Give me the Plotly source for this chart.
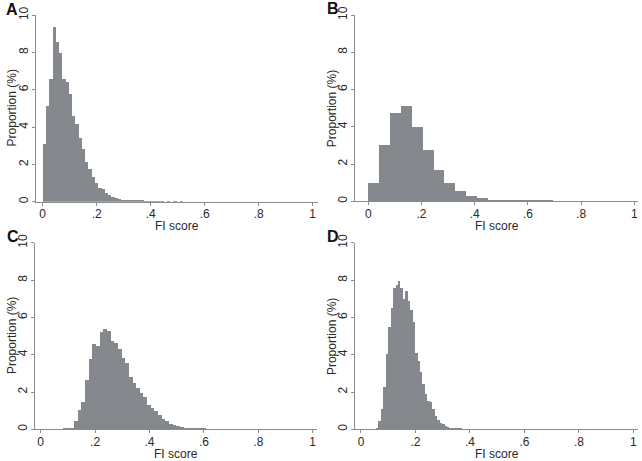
import plotly.graph_objects as go

# ---------------- data ----------------
# Panel A
a_start = 0.0
a_width = 0.0121
a_values = [3.06, 5.14, 6.57, 9.34, 8.56, 7.94, 6.58, 6.41, 5.78, 4.59, 4.18, 3.4, 2.8,
            2.1, 1.75, 1.3, 1.01, 0.75, 0.69, 0.48, 0.36, 0.23, 0.18, 0.12, 0.09, 0.07,
            0.05, 0.04, 0.04, 0.03, 0.03, 0.02, 0.02, 0.02, 0.01, 0.01, 0.015, 0, 0.015,
            0, 0.015, 0, 0.01]

# Panel B
b_start = 0.0
b_width = 0.0409
b_values = [1.0, 3.0, 4.72, 5.12, 4.0, 2.75, 1.66, 1.0, 0.57, 0.30, 0.16, 0.09, 0.05,
            0.04, 0.03, 0.02, 0.02]

# Panel C
c_start = 0.069
c_width = 0.01343
c_values = [0.02, 0.03, 0.07, 0.1, 0.45, 1.07, 1.5, 2.63, 3.79, 4.6, 4.49, 5.22, 5.4,
            5.26, 4.74, 4.63, 4.31, 3.85, 3.58, 2.84, 2.49, 2.24, 1.95, 1.74, 1.29, 1.16,
            0.97, 0.8, 0.57, 0.43, 0.30, 0.23, 0.18, 0.13, 0.09, 0.07, 0.05, 0.04, 0.03,
            0.03, 0.02, 0.02, 0.02, 0.01, 0.01, 0.01, 0.01]

# Panel D
d_start = 0.0457
d_width = 0.009
d_values = [0.02, 0.05, 0.48, 1.1, 2.3, 4.05, 5.5, 6.5, 7.6, 7.75, 7.95, 7.6, 7.0, 7.45,
            6.9, 6.4, 5.75, 4.1, 3.7, 3.1, 2.45, 1.9, 1.55, 1.45, 1.1, 0.75, 0.5, 0.36,
            0.27, 0.2, 0.15, 0.1, 0.07, 0.05, 0.04, 0.03, 0.02, 0.02, 0.01, 0.01, 0.01,
            0.01, 0, 0.01, 0, 0.005]

panel_letters = ["A", "B", "C", "D"]
x_tick_vals = [0, 0.2, 0.4, 0.6, 0.8, 1]
x_tick_text = ["0", ".2", ".4", ".6", ".8", "1"]
y_tick_vals = [0, 2, 4, 6, 8, 10]
y_tick_text = ["0", "2", "4", "6", "8", "10"]
x_title = "FI score"
y_title = "Proportion (%)"

# ---------------- figure ----------------
W, H = 642, 461
BAR_COLOR = "#85888c"
AXIS_COLOR = "#8c8c8c"
TEXT_COLOR = "#2a2a2a"
FONT = "Liberation Sans, Arial, sans-serif"
FS = 12

panels = [
    (a_start, a_width, a_values),
    (b_start, b_width, b_values),
    (c_start, c_width, c_values),
    (d_start, d_width, d_values),
]

# pixel geometry of each plot area: (left, right, top, bottom), x-range
geom = [
    ((36, 318.3, 15.2, 201.7), [-0.0248, 1.0207]),
    ((355, 638.3, 15.0, 201.3), [-0.050, 1.015]),
    ((35, 316.7, 242.8, 429.3), [-0.021, 1.0147]),
    ((355, 638.3, 242.8, 429.3), [-0.022, 1.018]),
]
ytitle_x = [12, 332, 12, 332]

fig = go.Figure()
layout = {}
annotations = []
for i, ((start, width, vals), ((l, r, t, b), xr)) in enumerate(zip(panels, geom)):
    n = i + 1
    xs = [start + k * width for k in range(len(vals))]
    fig.add_trace(go.Bar(
        x=xs, y=vals, width=width, offset=0,
        marker=dict(color=BAR_COLOR, line=dict(width=0)),
        xaxis="x" if n == 1 else f"x{n}",
        yaxis="y" if n == 1 else f"y{n}",
        showlegend=False, hoverinfo="x+y",
    ))
    xa = dict(
        domain=[l / W, r / W], range=xr, anchor="y" if n == 1 else f"y{n}",
        tickvals=x_tick_vals, ticktext=x_tick_text,
        showline=True, linecolor=AXIS_COLOR, linewidth=1,
        ticks="outside", ticklen=3, tickcolor=AXIS_COLOR, tickwidth=1,
        ticklabelstandoff=-2,
        showgrid=False, zeroline=False, automargin=False,
        tickfont=dict(size=FS, color=TEXT_COLOR, family=FONT),
    )
    ya = dict(
        domain=[1 - b / H, 1 - t / H], range=[0, 10], anchor="x" if n == 1 else f"x{n}",
        tickvals=y_tick_vals, ticktext=y_tick_text, tickangle=-90,
        showline=True, linecolor=AXIS_COLOR, linewidth=1,
        ticks="outside", ticklen=3, tickcolor=AXIS_COLOR, tickwidth=1,
        ticklabelstandoff=-1,
        showgrid=False, zeroline=False, automargin=False,
        tickfont=dict(size=FS, color=TEXT_COLOR, family=FONT),
    )
    layout["xaxis" if n == 1 else f"xaxis{n}"] = xa
    layout["yaxis" if n == 1 else f"yaxis{n}"] = ya
    # axis titles placed as paper annotations
    annotations.append(dict(
        text=x_title, x=(l + r) / 2 / W, y=1 - (b + 24.5) / H, xref="paper", yref="paper",
        showarrow=False, xanchor="center", yanchor="middle",
        font=dict(size=FS, color=TEXT_COLOR, family=FONT),
    ))
    annotations.append(dict(
        text=y_title, x=ytitle_x[i] / W, y=1 - (t + b) / 2 / H, xref="paper", yref="paper",
        showarrow=False, xanchor="center", yanchor="middle", textangle=-90,
        font=dict(size=FS, color=TEXT_COLOR, family=FONT),
    ))

letter_pos = [(12, 10), (333, 8), (13, 236), (333, 236)]
for letter, (px, py) in zip(panel_letters, letter_pos):
    annotations.append(dict(
        text=f"<b>{letter}</b>", x=px / W, y=1 - py / H, xref="paper", yref="paper",
        showarrow=False, xanchor="center", yanchor="middle",
        font=dict(size=16, color="#111111", family=FONT),
    ))

fig.update_layout(
    width=W, height=H, margin=dict(l=0, r=0, t=0, b=0),
    paper_bgcolor="white", plot_bgcolor="white",
    bargap=0, annotations=annotations,
    **layout,
)

fig.write_html("out.html", config={"displayModeBar": False})

# remove the default page margin so the figure fills the window exactly
with open("out.html", "r", encoding="utf-8") as f:
    html = f.read()
html = html.replace("<head>", "<head><style>html,body{margin:0;padding:0;overflow:hidden;}</style>", 1)
with open("out.html", "w", encoding="utf-8") as f:
    f.write(html)
